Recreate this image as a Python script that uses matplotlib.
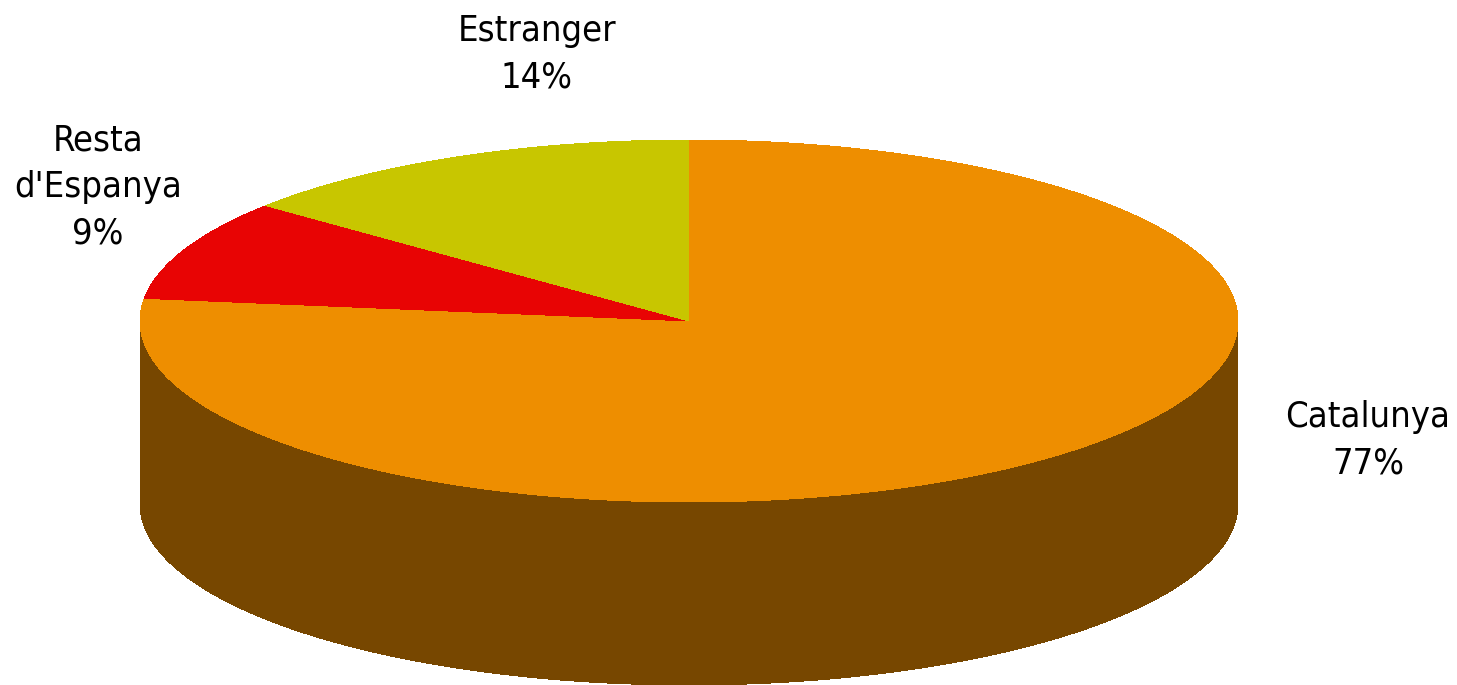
import numpy as np
import matplotlib
matplotlib.use("Agg")
import matplotlib.pyplot as plt
from matplotlib.patches import Polygon

# share of each origin
labels = ["Catalunya", "Resta\nd'Espanya", "Estranger"]
shares = [77, 9, 14]
colors = ["#ee8e00", "#e80404", "#c8c600"]

# label anchors (pixel coordinates) for each slice
label_pos = [(1368, 440), (98, 187), (537, 54)]

W, H = 1457, 685
cx, cy = 689, 321      # centre of the top face
rx, ry = 549, 181      # ellipse radii
depth = 183            # thickness of the disc
shade = 0.5            # side walls are darker than the top


def arc(t0, t1, dy=0.0, n=200):
    t = np.radians(np.linspace(t0, t1, n))
    return np.column_stack([cx + rx * np.cos(t), cy - ry * np.sin(t) + dy])


fig = plt.figure(figsize=(W / 100, H / 100), dpi=100)
ax = fig.add_axes([0, 0, 1, 1])
ax.set_xlim(0, W)
ax.set_ylim(H, 0)
ax.axis("off")

fracs = np.array(shares, dtype=float) / sum(shares)
ends = 90 - 360 * np.cumsum(fracs)
starts = np.concatenate([[90], ends[:-1]])

# side walls first (only the front half, where sin < 0)
for s, e, c in zip(starts, ends, colors):
    lo, hi = e, s
    rgb = np.array(matplotlib.colors.to_rgb(c)) * shade
    for k in range(-2, 2):
        a, b = max(lo, -180 + 360 * k), min(hi, 360 * k)
        if b <= a:
            continue
        top = arc(a, b)
        bot = arc(b, a, dy=depth)
        ax.add_patch(Polygon(np.vstack([top, bot]), closed=True,
                             facecolor=rgb, edgecolor="none", antialiased=False))

# top face wedges
for s, e, c in zip(starts, ends, colors):
    pts = np.vstack([[cx, cy], arc(s, e)])
    ax.add_patch(Polygon(pts, closed=True, facecolor=c, edgecolor="none",
                         antialiased=False))

for lab, pct, (x, y) in zip(labels, shares, label_pos):
    ax.text(x, y, f"{lab}\n{pct}%", ha="center", va="center",
            multialignment="center", fontsize=26, fontstretch="condensed",
            family="DejaVu Sans", linespacing=1.45, color="black")

fig.savefig("out.png", dpi=100, facecolor="white")
